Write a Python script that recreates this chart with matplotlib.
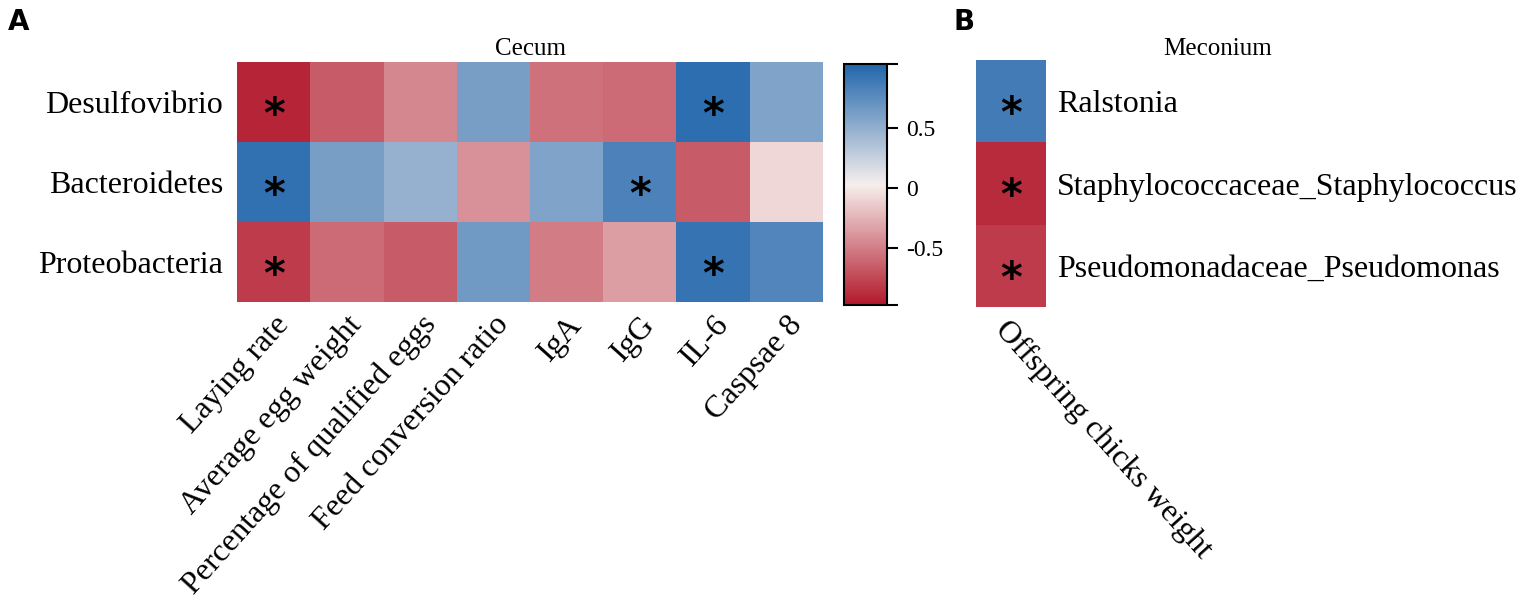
import numpy as np
import matplotlib
matplotlib.use("Agg")
import matplotlib.pyplot as plt
from matplotlib.colors import LinearSegmentedColormap, Normalize

# cecum correlations (rows = taxa, cols = traits)
cecum_taxa = ["Desulfovibrio", "Bacteroidetes", "Proteobacteria"]
cecum_traits = ["Laying rate", "Average egg weight", "Percentage of qualified eggs",
                "Feed conversion ratio", "IgA", "IgG", "IL-6", "Caspsae 8"]
cecum_r = [
    [-0.90, -0.65, -0.45, 0.62, -0.55, -0.58, 0.97, 0.58],
    [0.95, 0.62, 0.48, -0.40, 0.58, 0.82, -0.65, -0.08],
    [-0.80, -0.58, -0.65, 0.66, -0.50, -0.35, 0.93, 0.80],
]
cecum_sig = [
    [1, 0, 0, 0, 0, 0, 1, 0],
    [1, 0, 0, 0, 0, 1, 0, 0],
    [1, 0, 0, 0, 0, 0, 1, 0],
]

# meconium correlations
mec_taxa = ["Ralstonia", "Staphylococcaceae_Staphylococcus", "Pseudomonadaceae_Pseudomonas"]
mec_traits = ["Offspring chicks weight"]
mec_r = [[0.87], [-0.88], [-0.80]]
mec_sig = [[1], [1], [1]]

cbar_ticks = [-0.5, 0, 0.5]

W, H = 1535, 601
cmap = LinearSegmentedColormap.from_list("rb", ["#b2182b", "#f6efec", "#2166ac"])
norm = Normalize(vmin=-0.97, vmax=1.03)
serif = "Liberation Serif"
lab_size = 23

fig = plt.figure(figsize=(W / 100, H / 100), dpi=100)


def px_axes(x0, y0, x1, y1):
    return fig.add_axes([x0 / W, 1 - y1 / H, (x1 - x0) / W, (y1 - y0) / H])


def draw_heat(ax, data, sig):
    data = np.array(data)
    ax.pcolormesh(data, cmap=cmap, norm=norm)
    ax.set_xlim(0, data.shape[1])
    ax.set_ylim(data.shape[0], 0)
    for i in range(data.shape[0]):
        for j in range(data.shape[1]):
            if sig[i][j]:
                ax.text(j + 0.5, i + 0.67, "*", ha="center", va="center",
                        fontsize=30, fontweight="bold", family="DejaVu Sans")
    for s in ax.spines.values():
        s.set_visible(False)
    ax.tick_params(length=0)


# panel A
ax = px_axes(237, 62, 823, 302)
draw_heat(ax, cecum_r, cecum_sig)
ax.set_yticks(np.arange(len(cecum_taxa)) + 0.5)
ax.set_yticklabels(cecum_taxa, family=serif, fontsize=lab_size)
ax.tick_params(axis="y", pad=10)
ax.set_xticks(np.arange(len(cecum_traits)) + 0.5)
ax.set_xticklabels(cecum_traits, family=serif, fontsize=lab_size, rotation=48,
                   ha="right", rotation_mode="anchor")
ax.tick_params(axis="x", pad=6)
ax.set_title("Cecum", family=serif, fontsize=18, pad=5)

cax = px_axes(844, 64, 887, 305)
sm = plt.cm.ScalarMappable(cmap=cmap, norm=norm)
cb = fig.colorbar(sm, cax=cax)
cb.set_ticks([norm.vmin] + cbar_ticks + [norm.vmax])
cb.set_ticklabels([""] + ["-0.5", "0", "0.5"] + [""])
cb.outline.set_linewidth(1.5)
cax.tick_params(length=8, width=1.5, labelsize=17, pad=6)
for t in cax.get_yticklabels():
    t.set_family(serif)

# panel B
bx = px_axes(976, 60, 1046, 307)
draw_heat(bx, mec_r, mec_sig)
bx.yaxis.tick_right()
bx.set_yticks(np.arange(len(mec_taxa)) + 0.5)
bx.set_yticklabels(mec_taxa, family=serif, fontsize=lab_size)
bx.tick_params(axis="y", pad=8)
bx.set_xticks([0.5])
bx.set_xticklabels(mec_traits, family=serif, fontsize=lab_size, rotation=-48,
                   ha="left", rotation_mode="anchor")
bx.tick_params(axis="x", pad=6)
fig.text(1218 / W, 1 - 49 / H, "Meconium", family=serif, fontsize=18,
         ha="center", va="center")

fig.text(8 / W, 1 - 22 / H, "A", fontsize=20, fontweight="bold", va="center",
         family="DejaVu Sans")
fig.text(953 / W, 1 - 22 / H, "B", fontsize=20, fontweight="bold", va="center",
         family="DejaVu Sans")

fig.savefig("out.png", dpi=100)
